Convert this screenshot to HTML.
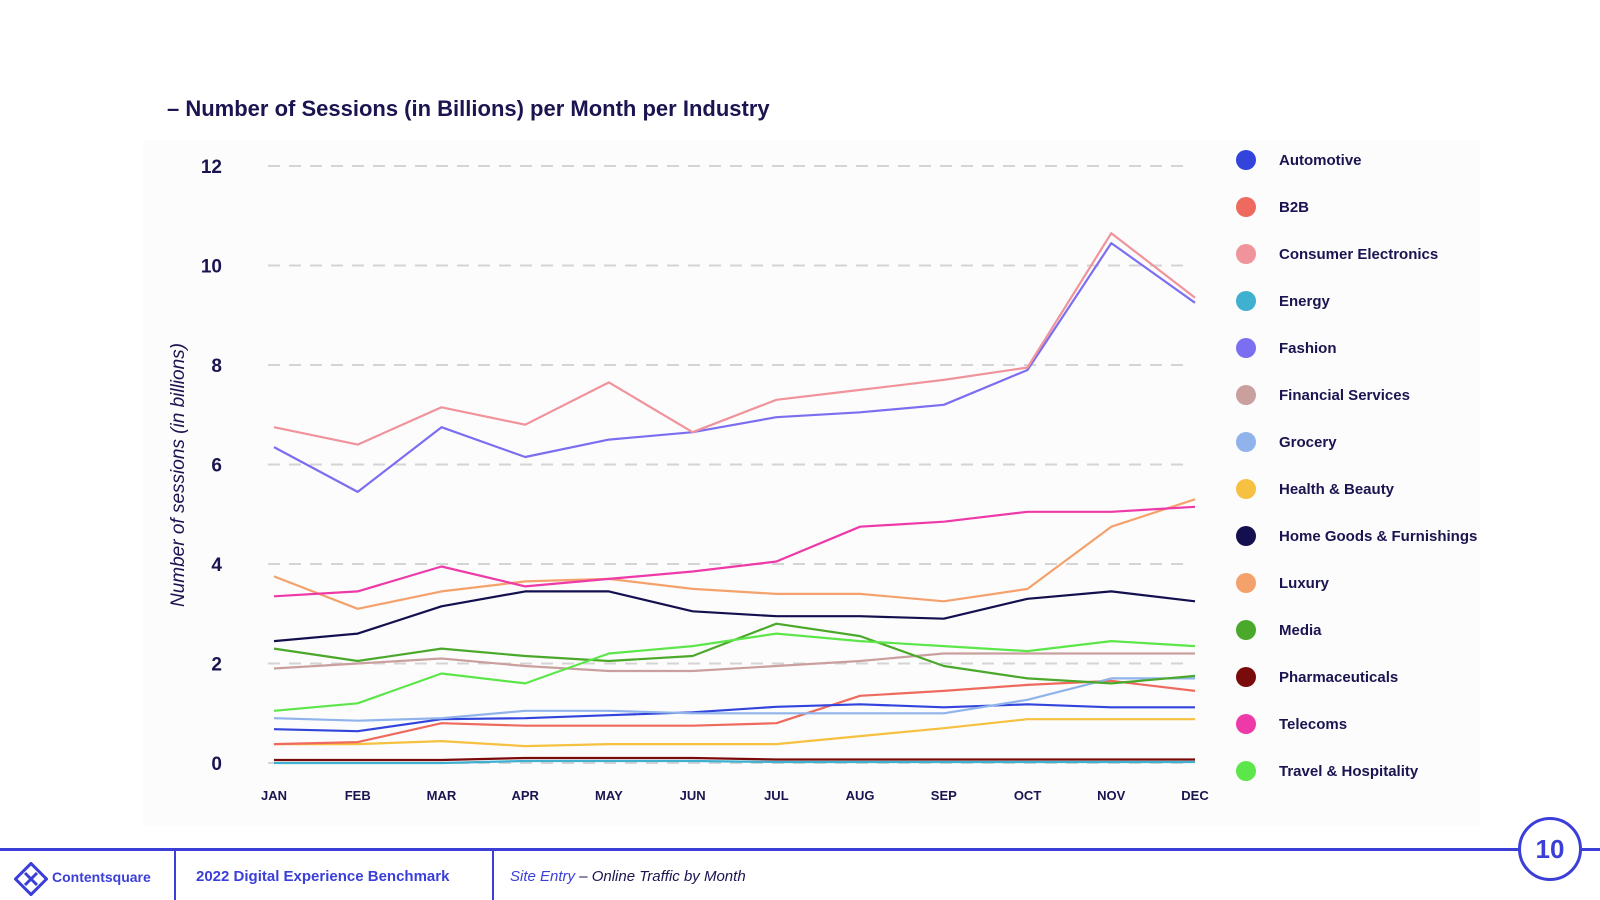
<!DOCTYPE html>
<html><head><meta charset="utf-8"><style>
body{margin:0;width:1600px;height:900px;background:#fff;overflow:hidden;font-family:"Liberation Sans",sans-serif;position:relative}
.t{position:absolute;white-space:nowrap}
</style></head><body>
<div style="position:absolute;left:143px;top:140px;width:1337px;height:686px;background:#fcfcfc"></div>
<div class="t" style="left:167px;top:96px;font-size:22px;font-weight:bold;color:#1a1450">– Number of Sessions (in Billions) per Month per Industry</div>
<svg id="chart" width="1600" height="900" style="position:absolute;left:0;top:0"></svg>
<div style="position:absolute;left:0;top:848px;width:1600px;height:3px;background:#3b3fd8"></div>
<div style="position:absolute;left:174px;top:850px;width:2px;height:50px;background:#3b3fd8"></div>
<div style="position:absolute;left:492px;top:850px;width:2px;height:50px;background:#3b3fd8"></div>
<svg style="position:absolute;left:14px;top:862px" width="34" height="34"><rect x="6" y="6" width="22" height="22" transform="rotate(45 17 17)" fill="none" stroke="#3b3fd8" stroke-width="3"/><path d="M11 11 L23 23 M23 11 L11 23" stroke="#3b3fd8" stroke-width="3"/></svg>
<div class="t" style="left:52px;top:869px;font-size:14px;font-weight:bold;color:#3b3fd8">Contentsquare</div>
<div class="t" style="left:196px;top:868px;font-size:15px;font-weight:bold;color:#3b3fd8">2022 Digital Experience Benchmark</div>
<div class="t" style="left:510px;top:868px;font-size:15px;font-style:italic;color:#1a1450"><span style="color:#3b3fd8">Site Entry</span> – Online Traffic by Month</div>
<div style="position:absolute;left:1518px;top:817px;width:64px;height:64px;border:3px solid #3b3fd8;border-radius:50%;background:#fff;box-sizing:border-box;text-align:center;line-height:58px;font-size:26px;font-weight:bold;color:#3b3fd8">10</div>
<script>
const months=["JAN","FEB","MAR","APR","MAY","JUN","JUL","AUG","SEP","OCT","NOV","DEC"];
const yTicks=[0,2,4,6,8,10,12];
const seriesNames=["Automotive","B2B","Consumer Electronics","Energy","Fashion","Financial Services","Grocery","Health & Beauty","Home Goods & Furnishings","Luxury","Media","Pharmaceuticals","Telecoms","Travel & Hospitality"];
const seriesColors=["#3344dd","#ee6a5e","#f0939a","#3fb0d0","#7b6ef0","#c9a09e","#8fb3ea","#f6c040","#14104f","#f4a16c","#4aa82a","#7a0b0b","#ee3aa8","#5ce64a"];
const automotive=[0.68,0.64,0.88,0.9,0.96,1.02,1.13,1.18,1.12,1.18,1.12,1.12];
const b2b=[0.38,0.42,0.8,0.75,0.75,0.75,0.8,1.35,1.45,1.57,1.65,1.45];
const consumerElectronics=[6.75,6.4,7.15,6.8,7.65,6.65,7.3,7.5,7.7,7.95,10.65,9.35];
const energy=[0,0,0,0.04,0.04,0.04,0.02,0.02,0.02,0.02,0.02,0.02];
const fashion=[6.35,5.45,6.75,6.15,6.5,6.65,6.95,7.05,7.2,7.9,10.45,9.25];
const financial=[1.9,2.0,2.1,1.95,1.85,1.85,1.95,2.05,2.2,2.2,2.2,2.2];
const grocery=[0.9,0.85,0.9,1.05,1.05,1.0,1.0,1.0,1.0,1.27,1.7,1.7];
const health=[0.38,0.38,0.44,0.34,0.38,0.38,0.38,0.54,0.7,0.88,0.88,0.88];
const homeGoods=[2.45,2.6,3.15,3.45,3.45,3.05,2.95,2.95,2.9,3.3,3.45,3.25];
const luxury=[3.75,3.1,3.45,3.65,3.7,3.5,3.4,3.4,3.25,3.5,4.75,5.3];
const media=[2.3,2.05,2.3,2.15,2.05,2.15,2.8,2.55,1.95,1.7,1.6,1.75];
const pharma=[0.06,0.06,0.06,0.1,0.1,0.1,0.07,0.07,0.07,0.07,0.07,0.07];
const telecoms=[3.35,3.45,3.95,3.55,3.7,3.85,4.05,4.75,4.85,5.05,5.05,5.15];
const travel=[1.05,1.2,1.8,1.6,2.2,2.35,2.6,2.45,2.35,2.25,2.45,2.35];
const allSeries=[automotive,b2b,consumerElectronics,energy,fashion,financial,grocery,health,homeGoods,luxury,media,pharma,telecoms,travel];
const drawOrder=[3,11,7,1,0,6,5,10,13,8,9,12,4,2];

const svg=document.getElementById('chart');
const NS='http://www.w3.org/2000/svg';
const X0=274,X1=1195,Y0=763,YS=49.75;
const xs=i=>X0+i*(X1-X0)/(months.length-1);
const ys=v=>Y0-v*YS;
function mk(tag,attrs,text){const e=document.createElementNS(NS,tag);for(const k in attrs)e.setAttribute(k,attrs[k]);if(text!==undefined)e.textContent=text;svg.appendChild(e);return e;}

yTicks.forEach(v=>{
  const g=mk('line',{x1:268,x2:1188,y1:ys(v),y2:ys(v),stroke:'#d4d4d4','stroke-width':2,'stroke-dasharray':'12 9'});
  
  
  const t=mk('text',{x:222,y:ys(v)+7,'text-anchor':'end','font-size':19,'font-weight':'bold',fill:'#1a1450','font-family':'Liberation Sans'},String(v));
  
  
});
months.forEach((m,i)=>{
  const t=mk('text',{x:xs(i),y:800,'text-anchor':'middle','font-size':13,'font-weight':'bold',fill:'#1a1450','font-family':'Liberation Sans'},m);
  
  
});
const yt=mk('text',{x:0,y:0,transform:'translate(184,475) rotate(-90)','text-anchor':'middle','font-size':19,'font-style':'italic',fill:'#1a1450','font-family':'Liberation Sans'},'Number of sessions (in billions)');



drawOrder.forEach(si=>{
  const d=allSeries[si].map((v,i)=>(i?'L':'M')+xs(i).toFixed(1)+' '+ys(v).toFixed(1)).join(' ');
  const p=mk('path',{d:d,fill:'none',stroke:seriesColors[si],'stroke-width':2.2,'stroke-linejoin':'round'});
  
  
});
seriesNames.forEach((n,i)=>{
  const y=160+i*47;
  const c=mk('circle',{cx:1246,cy:y,r:10,fill:seriesColors[i]});
  
  
  const t=mk('text',{x:1279,y:y+5,'font-size':15,'font-weight':'bold',fill:'#1a1450','font-family':'Liberation Sans'},n);
  
  
});
</script>
</body></html>
